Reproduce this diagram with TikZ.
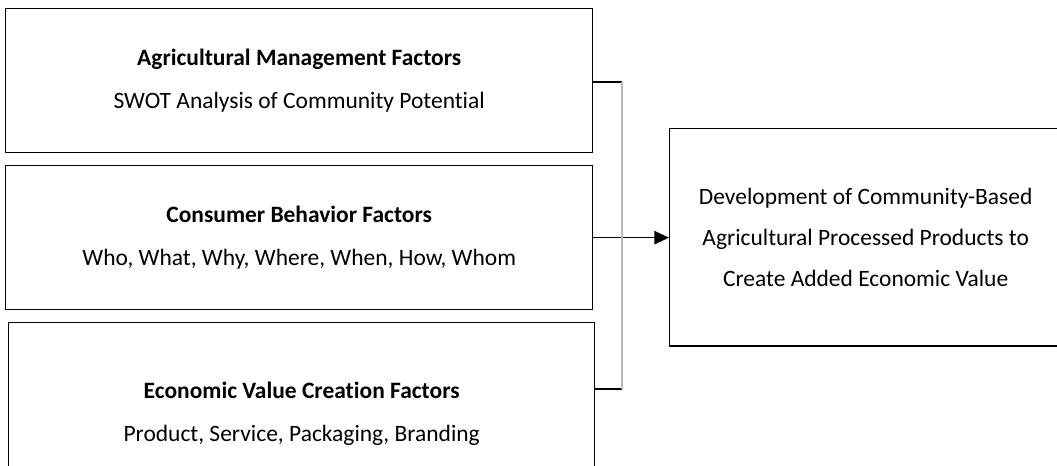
\documentclass[tikz,border=0pt]{standalone}
\usepackage{fontspec}
\setmainfont[Ligatures=NoCommon]{Carlito}
\usetikzlibrary{arrows.meta}

\tikzset{
  factorbox/.style={draw, line width=1pt, anchor=north west, align=center,
    font=\fontsize{17.6}{32}\selectfont},
  resultbox/.style={draw, line width=1pt, anchor=north west, align=center,
    font=\fontsize{17.6}{31}\selectfont}
}

\begin{document}
\begin{tikzpicture}[x=0.75pt,y=-0.75pt]
  \useasboundingbox (0,0) rectangle (1057,466);
  \clip (0,0) rectangle (1057,466);
  \node[factorbox, minimum width=440.25pt, minimum height=108pt] (mgmt) at (5,8)
    {\textbf{Agricultural Management Factors}\\SWOT Analysis of Community Potential};
  \node[factorbox, minimum width=440.25pt, minimum height=108pt] (consumer) at (5,165)
    {\textbf{Consumer Behavior Factors}\\Who, What, Why, Where, When, How, Whom};
  \node[factorbox, minimum width=439.5pt, minimum height=137pt] (value) at (8,322)
    {\textbf{Economic Value Creation Factors}\\Product, Service, Packaging, Branding};
  \node[resultbox, minimum width=294pt, minimum height=163pt] (result) at (669,128)
    {Development of Community-Based\\Agricultural Processed Products to\\Create Added Economic Value};
  % bracket joining the three factors
  \coordinate (jtop) at (622,82);
  \coordinate (jbot) at (622,389);
  \draw[line width=1pt] (mgmt.east |- jtop) -- (jtop);
  \draw[line width=1pt] (value.east |- jbot) -- (jbot);
  \draw[-{Triangle[length=11pt,width=10pt]}, line width=1.2pt] (consumer.east) -- (result.west |- consumer.east);
  \draw[gray!55, line width=1pt] (jtop) -- (jbot);
\end{tikzpicture}
\end{document}
